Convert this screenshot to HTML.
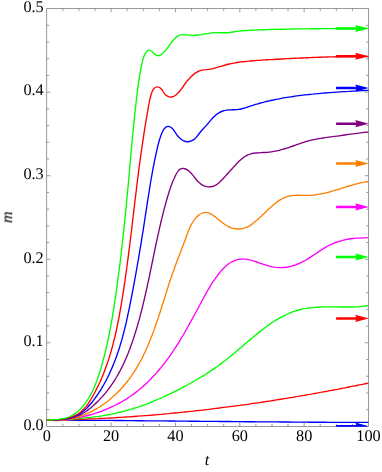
<!DOCTYPE html><html><head><meta charset="utf-8"><title>plot</title><style>html,body{margin:0;padding:0;background:#fff}svg{display:block}text{font-family:"Liberation Serif",serif;font-size:16.25px;fill:#000;text-rendering:geometricPrecision}</style></head><body>
<svg width="382" height="472" viewBox="0 0 382 472">
<rect width="382" height="472" fill="#fff"/>
<defs><clipPath id="c"><rect x="46.45" y="8.30" width="322.55" height="418.35"/></clipPath></defs>
<g stroke="#666" stroke-width="0.65" fill="none">
<rect x="46.75" y="8.60" width="321.75" height="417.75"/>
<path d="M62.84 426.35v-2.40M62.84 8.60v2.40M78.92 426.35v-2.40M78.92 8.60v2.40M95.01 426.35v-2.40M95.01 8.60v2.40M111.10 426.35v-3.70M111.10 8.60v3.70M127.19 426.35v-2.40M127.19 8.60v2.40M143.28 426.35v-2.40M143.28 8.60v2.40M159.36 426.35v-2.40M159.36 8.60v2.40M175.45 426.35v-3.70M175.45 8.60v3.70M191.54 426.35v-2.40M191.54 8.60v2.40M207.62 426.35v-2.40M207.62 8.60v2.40M223.71 426.35v-2.40M223.71 8.60v2.40M239.80 426.35v-3.70M239.80 8.60v3.70M255.89 426.35v-2.40M255.89 8.60v2.40M271.98 426.35v-2.40M271.98 8.60v2.40M288.06 426.35v-2.40M288.06 8.60v2.40M304.15 426.35v-3.70M304.15 8.60v3.70M320.24 426.35v-2.40M320.24 8.60v2.40M336.32 426.35v-2.40M336.32 8.60v2.40M352.41 426.35v-2.40M352.41 8.60v2.40M46.75 409.64h2.40M368.50 409.64h-2.40M46.75 392.93h2.40M368.50 392.93h-2.40M46.75 376.22h2.40M368.50 376.22h-2.40M46.75 359.51h2.40M368.50 359.51h-2.40M46.75 342.80h3.70M368.50 342.80h-3.70M46.75 326.09h2.40M368.50 326.09h-2.40M46.75 309.38h2.40M368.50 309.38h-2.40M46.75 292.67h2.40M368.50 292.67h-2.40M46.75 275.96h2.40M368.50 275.96h-2.40M46.75 259.25h3.70M368.50 259.25h-3.70M46.75 242.54h2.40M368.50 242.54h-2.40M46.75 225.83h2.40M368.50 225.83h-2.40M46.75 209.12h2.40M368.50 209.12h-2.40M46.75 192.41h2.40M368.50 192.41h-2.40M46.75 175.70h3.70M368.50 175.70h-3.70M46.75 158.99h2.40M368.50 158.99h-2.40M46.75 142.28h2.40M368.50 142.28h-2.40M46.75 125.57h2.40M368.50 125.57h-2.40M46.75 108.86h2.40M368.50 108.86h-2.40M46.75 92.15h3.70M368.50 92.15h-3.70M46.75 75.44h2.40M368.50 75.44h-2.40M46.75 58.73h2.40M368.50 58.73h-2.40M46.75 42.02h2.40M368.50 42.02h-2.40M46.75 25.31h2.40M368.50 25.31h-2.40"/>
</g>
<g clip-path="url(#c)" fill="none" stroke-width="1.35" stroke-linejoin="round">
<path d="M46.6 420.0C47.9 420.0 49.2 420.0 50.6 420.0C51.9 420.0 53.2 420.0 54.5 420.0C55.9 420.1 57.2 420.1 58.5 420.1C59.8 420.1 61.2 420.1 62.5 420.1C63.8 420.1 65.1 420.1 66.5 420.1C67.8 420.1 69.1 420.1 70.4 420.1C71.8 420.1 73.1 420.2 74.4 420.2C75.7 420.2 77.1 420.2 78.4 420.2C79.7 420.2 81.0 420.2 82.4 420.2C83.7 420.2 85.0 420.2 86.3 420.3C87.7 420.3 89.0 420.3 90.3 420.3C91.6 420.3 93.0 420.3 94.3 420.3C95.6 420.3 96.9 420.3 98.2 420.3C99.6 420.4 100.9 420.4 102.2 420.4C103.5 420.4 104.9 420.4 106.2 420.4C107.5 420.4 108.8 420.4 110.2 420.4C111.5 420.4 112.8 420.5 114.1 420.5C115.5 420.5 116.8 420.5 118.1 420.5C119.4 420.5 120.8 420.5 122.1 420.5C123.4 420.6 124.7 420.6 126.1 420.6C127.4 420.6 128.7 420.6 130.0 420.6C131.4 420.6 132.7 420.6 134.0 420.6C135.3 420.7 136.7 420.7 138.0 420.7C139.3 420.7 140.6 420.7 141.9 420.7C143.3 420.7 144.6 420.7 145.9 420.8C147.2 420.8 148.6 420.8 149.9 420.8C151.2 420.8 152.5 420.8 153.9 420.8C155.2 420.8 156.5 420.9 157.8 420.9C159.2 420.9 160.5 420.9 161.8 420.9C163.1 420.9 164.5 420.9 165.8 420.9C167.1 421.0 168.4 421.0 169.8 421.0C171.1 421.0 172.4 421.0 173.7 421.0C175.1 421.0 176.4 421.0 177.7 421.1C179.0 421.1 180.4 421.1 181.7 421.1C183.0 421.1 184.3 421.1 185.6 421.1C187.0 421.1 188.3 421.2 189.6 421.2C190.9 421.2 192.3 421.2 193.6 421.2C194.9 421.2 196.2 421.2 197.6 421.2C198.9 421.3 200.2 421.3 201.5 421.3C202.9 421.3 204.2 421.3 205.5 421.3C206.8 421.3 208.2 421.3 209.5 421.4C210.8 421.4 212.1 421.4 213.5 421.4C214.8 421.4 216.1 421.4 217.4 421.4C218.8 421.4 220.1 421.5 221.4 421.5C222.7 421.5 224.1 421.5 225.4 421.5C226.7 421.5 228.0 421.5 229.3 421.5C230.7 421.6 232.0 421.6 233.3 421.6C234.6 421.6 236.0 421.6 237.3 421.6C238.6 421.6 239.9 421.6 241.3 421.6C242.6 421.7 243.9 421.7 245.2 421.7C246.6 421.7 247.9 421.7 249.2 421.7C250.5 421.7 251.9 421.7 253.2 421.7C254.5 421.8 255.8 421.8 257.2 421.8C258.5 421.8 259.8 421.8 261.1 421.8C262.5 421.8 263.8 421.8 265.1 421.8C266.4 421.9 267.8 421.9 269.1 421.9C270.4 421.9 271.7 421.9 273.1 421.9C274.4 421.9 275.7 421.9 277.0 421.9C278.3 422.0 279.7 422.0 281.0 422.0C282.3 422.0 283.6 422.0 285.0 422.0C286.3 422.0 287.6 422.0 288.9 422.0C290.3 422.0 291.6 422.0 292.9 422.1C294.2 422.1 295.6 422.1 296.9 422.1C298.2 422.1 299.5 422.1 300.9 422.1C302.2 422.1 303.5 422.1 304.8 422.1C306.2 422.1 307.5 422.2 308.8 422.2C310.1 422.2 311.5 422.2 312.8 422.2C314.1 422.2 315.4 422.2 316.8 422.2C318.1 422.2 319.4 422.2 320.7 422.2C322.0 422.2 323.4 422.2 324.7 422.2C326.0 422.3 327.3 422.3 328.7 422.3C330.0 422.3 331.3 422.3 332.6 422.3C334.0 422.3 335.3 422.3 336.6 422.3C337.9 422.3 339.3 422.3 340.6 422.3C341.9 422.3 343.2 422.3 344.6 422.3C345.9 422.3 347.2 422.3 348.5 422.3C349.9 422.4 351.2 422.4 352.5 422.4C353.8 422.4 355.2 422.4 356.5 422.4C357.8 422.4 359.1 422.4 360.5 422.4C361.8 422.4 363.1 422.4 364.4 422.4C365.8 422.4 367.1 422.4 368.4 422.4" stroke="#0000ff"/>
<path d="M46.6 420.0C47.9 420.0 49.2 420.0 50.6 420.0C51.9 419.9 53.2 419.9 54.5 419.9C55.8 419.9 57.2 419.9 58.5 419.8C59.8 419.8 61.1 419.8 62.4 419.8C63.8 419.7 65.1 419.7 66.4 419.7C67.7 419.6 69.0 419.6 70.3 419.6C71.7 419.5 73.0 419.5 74.3 419.5C75.6 419.4 76.9 419.4 78.3 419.4C79.6 419.3 80.9 419.3 82.2 419.2C83.5 419.2 84.8 419.1 86.2 419.1C87.5 419.0 88.8 419.0 90.1 418.9C91.4 418.9 92.8 418.8 94.1 418.8C95.4 418.7 96.7 418.6 98.0 418.6C99.3 418.5 100.7 418.5 102.0 418.4C103.3 418.3 104.6 418.3 105.9 418.2C107.2 418.1 108.6 418.1 109.9 418.0C111.2 417.9 112.5 417.8 113.8 417.8C115.1 417.7 116.5 417.6 117.8 417.5C119.1 417.4 120.4 417.4 121.7 417.3C123.0 417.2 124.4 417.1 125.7 417.0C127.0 416.9 128.3 416.9 129.6 416.8C130.9 416.7 132.2 416.6 133.6 416.5C134.9 416.4 136.2 416.3 137.5 416.2C138.8 416.1 140.1 416.0 141.5 415.9C142.8 415.8 144.1 415.7 145.4 415.6C146.7 415.5 148.0 415.4 149.3 415.3C150.7 415.2 152.0 415.1 153.3 415.0C154.6 414.9 155.9 414.8 157.2 414.6C158.5 414.5 159.8 414.4 161.2 414.3C162.5 414.2 163.8 414.1 165.1 413.9C166.4 413.8 167.7 413.7 169.0 413.6C170.4 413.4 171.7 413.3 173.0 413.2C174.3 413.1 175.6 412.9 176.9 412.8C178.2 412.7 179.5 412.5 180.8 412.4C182.2 412.3 183.5 412.1 184.8 412.0C186.1 411.9 187.4 411.7 188.7 411.6C190.0 411.5 191.3 411.3 192.7 411.2C194.0 411.0 195.3 410.9 196.6 410.7C197.9 410.6 199.2 410.4 200.5 410.3C201.8 410.1 203.1 410.0 204.4 409.8C205.8 409.7 207.1 409.5 208.4 409.4C209.7 409.2 211.0 409.1 212.3 408.9C213.6 408.8 214.9 408.6 216.2 408.4C217.5 408.3 218.8 408.1 220.2 407.9C221.5 407.8 222.8 407.6 224.1 407.4C225.4 407.3 226.7 407.1 228.0 406.9C229.3 406.8 230.6 406.6 231.9 406.4C233.2 406.2 234.5 406.1 235.8 405.9C237.2 405.7 238.5 405.5 239.8 405.4C241.1 405.2 242.4 405.0 243.7 404.8C245.0 404.6 246.3 404.4 247.6 404.3C248.9 404.1 250.2 403.9 251.5 403.7C252.8 403.5 254.1 403.3 255.4 403.1C256.7 402.9 258.0 402.7 259.3 402.6C260.7 402.4 262.0 402.2 263.3 402.0C264.6 401.8 265.9 401.6 267.2 401.4C268.5 401.2 269.8 401.0 271.1 400.8C272.4 400.6 273.7 400.4 275.0 400.2C276.3 399.9 277.6 399.7 278.9 399.5C280.2 399.3 281.5 399.1 282.8 398.9C284.1 398.7 285.4 398.5 286.7 398.3C288.0 398.1 289.3 397.8 290.6 397.6C291.9 397.4 293.2 397.2 294.5 397.0C295.8 396.7 297.1 396.5 298.4 396.3C299.7 396.1 301.0 395.9 302.3 395.6C303.6 395.4 304.9 395.2 306.2 395.0C307.5 394.7 308.8 394.5 310.1 394.3C311.4 394.0 312.7 393.8 314.0 393.6C315.3 393.4 316.6 393.1 317.9 392.9C319.2 392.6 320.5 392.4 321.8 392.2C323.1 391.9 324.4 391.7 325.7 391.5C327.0 391.2 328.3 391.0 329.6 390.7C330.9 390.5 332.2 390.2 333.5 390.0C334.8 389.8 336.1 389.5 337.4 389.3C338.7 389.0 339.9 388.8 341.2 388.5C342.5 388.3 343.8 388.0 345.1 387.8C346.4 387.5 347.7 387.3 349.0 387.0C350.3 386.8 351.6 386.5 352.9 386.2C354.2 386.0 355.5 385.7 356.8 385.5C358.1 385.2 359.4 384.9 360.6 384.7C361.9 384.4 363.2 384.2 364.5 383.9C365.8 383.6 367.1 383.4 368.4 383.1" stroke="#ff0000"/>
<path d="M46.6 420.0C47.9 420.0 49.2 420.0 50.6 419.9C51.9 419.9 53.2 419.9 54.5 419.8C55.9 419.8 57.2 419.7 58.5 419.7C59.9 419.6 61.2 419.6 62.5 419.5C63.9 419.5 65.2 419.4 66.5 419.3C67.9 419.3 69.2 419.2 70.5 419.1C71.9 419.0 73.2 419.0 74.5 418.9C75.9 418.8 77.2 418.7 78.5 418.6C79.9 418.5 81.2 418.3 82.5 418.2C83.9 418.1 85.2 418.0 86.5 417.8C87.8 417.7 89.2 417.5 90.5 417.4C91.8 417.2 93.2 417.1 94.5 416.9C95.8 416.7 97.1 416.5 98.5 416.4C99.8 416.2 101.1 416.0 102.4 415.8C103.7 415.5 105.1 415.3 106.4 415.1C107.7 414.9 109.0 414.6 110.3 414.4C111.6 414.1 112.9 413.8 114.2 413.6C115.5 413.3 116.8 413.0 118.1 412.7C119.4 412.4 120.7 412.1 122.0 411.8C123.3 411.5 124.6 411.1 125.8 410.8C127.1 410.4 128.4 410.1 129.7 409.7C131.0 409.3 132.2 408.9 133.5 408.5C134.8 408.1 136.0 407.7 137.3 407.3C138.5 406.9 139.8 406.5 141.0 406.0C142.3 405.6 143.5 405.1 144.8 404.7C146.0 404.2 147.3 403.7 148.5 403.3C149.7 402.8 151.0 402.3 152.2 401.8C153.4 401.3 154.7 400.8 155.9 400.2C157.1 399.7 158.3 399.2 159.6 398.7C160.8 398.1 162.0 397.6 163.2 397.0C164.4 396.5 165.6 395.9 166.8 395.4C168.0 394.8 169.2 394.2 170.4 393.6C171.7 393.1 172.9 392.5 174.0 391.9C175.2 391.3 176.4 390.7 177.6 390.1C178.8 389.5 180.0 388.9 181.2 388.3C182.4 387.6 183.6 387.0 184.8 386.4C185.9 385.8 187.1 385.1 188.3 384.5C189.5 383.8 190.6 383.2 191.8 382.5C193.0 381.9 194.1 381.2 195.3 380.5C196.4 379.9 197.6 379.2 198.7 378.5C199.9 377.8 201.0 377.1 202.2 376.4C203.3 375.7 204.5 375.0 205.6 374.3C206.7 373.6 207.8 372.9 208.9 372.1C210.1 371.4 211.2 370.7 212.3 369.9C213.4 369.2 214.5 368.4 215.6 367.6C216.7 366.9 217.7 366.1 218.8 365.3C219.9 364.5 221.0 363.7 222.0 362.9C223.1 362.1 224.2 361.3 225.2 360.5C226.3 359.7 227.3 358.9 228.3 358.0C229.4 357.2 230.4 356.4 231.4 355.5C232.5 354.7 233.5 353.8 234.5 353.0C235.5 352.1 236.6 351.3 237.6 350.4C238.6 349.6 239.6 348.7 240.6 347.8C241.6 347.0 242.6 346.1 243.6 345.2C244.7 344.4 245.7 343.5 246.7 342.6C247.7 341.8 248.7 340.9 249.7 340.1C250.8 339.2 251.8 338.3 252.8 337.5C253.8 336.6 254.8 335.8 255.9 334.9C256.9 334.1 257.9 333.2 259.0 332.4C260.0 331.6 261.1 330.7 262.1 329.9C263.2 329.1 264.2 328.3 265.3 327.5C266.4 326.7 267.4 325.9 268.5 325.1C269.6 324.4 270.7 323.6 271.8 322.8C272.9 322.1 274.0 321.4 275.2 320.7C276.3 319.9 277.5 319.3 278.6 318.6C279.8 317.9 281.0 317.3 282.1 316.6C283.3 316.0 284.5 315.4 285.8 314.8C287.0 314.3 288.2 313.7 289.4 313.2C290.7 312.7 291.9 312.2 293.2 311.7C294.4 311.3 295.7 310.9 296.9 310.5C298.2 310.1 299.5 309.8 300.8 309.5C302.1 309.2 303.4 308.9 304.7 308.7C305.9 308.4 307.3 308.2 308.6 308.0C309.9 307.9 311.2 307.7 312.5 307.6C313.8 307.4 315.1 307.3 316.5 307.2C317.8 307.2 319.1 307.1 320.4 307.0C321.8 307.0 323.1 306.9 324.4 306.9C325.8 306.9 327.1 306.9 328.5 306.9C329.8 306.9 331.1 306.9 332.5 306.9C333.8 306.9 335.2 306.9 336.5 306.9C337.9 307.0 339.2 307.0 340.6 307.0C341.9 307.0 343.2 307.0 344.6 307.0C345.9 307.0 347.3 307.0 348.6 307.0C349.9 307.0 351.3 307.0 352.6 307.0C353.9 306.9 355.3 306.9 356.6 306.8C357.9 306.8 359.3 306.7 360.6 306.6C361.9 306.5 363.2 306.4 364.5 306.2C365.8 306.1 367.1 305.9 368.4 305.7" stroke="#00ff00"/>
<path d="M46.6 420.0C47.9 420.1 49.2 420.1 50.5 420.1C51.8 420.1 53.1 420.1 54.4 420.1C55.7 420.1 57.0 420.1 58.3 420.0C59.6 419.9 60.9 419.9 62.2 419.8C63.5 419.7 64.8 419.6 66.1 419.4C67.5 419.3 68.8 419.1 70.1 419.0C71.4 418.8 72.7 418.6 74.0 418.4C75.3 418.2 76.6 418.0 77.9 417.7C79.2 417.5 80.5 417.2 81.9 416.9C83.2 416.7 84.5 416.4 85.7 416.0C87.0 415.7 88.3 415.4 89.6 415.0C90.9 414.7 92.2 414.3 93.5 413.9C94.7 413.5 96.0 413.1 97.3 412.7C98.6 412.3 99.8 411.8 101.1 411.4C102.3 410.9 103.6 410.4 104.8 409.9C106.0 409.4 107.3 408.9 108.5 408.4C109.7 407.9 110.9 407.3 112.1 406.7C113.3 406.2 114.5 405.6 115.7 405.0C116.9 404.4 118.1 403.8 119.2 403.2C120.4 402.5 121.6 401.9 122.7 401.2C123.8 400.5 125.0 399.9 126.1 399.2C127.2 398.5 128.3 397.7 129.4 397.0C130.5 396.3 131.6 395.5 132.6 394.8C133.7 394.0 134.7 393.2 135.8 392.4C136.8 391.6 137.8 390.8 138.9 390.0C139.9 389.2 140.9 388.3 141.8 387.5C142.8 386.6 143.8 385.7 144.8 384.9C145.7 384.0 146.7 383.1 147.6 382.2C148.6 381.3 149.5 380.4 150.4 379.4C151.3 378.5 152.2 377.5 153.1 376.6C154.0 375.6 154.9 374.7 155.8 373.7C156.6 372.7 157.5 371.7 158.3 370.7C159.2 369.7 160.0 368.7 160.9 367.7C161.7 366.7 162.5 365.7 163.3 364.6C164.1 363.6 164.9 362.5 165.7 361.5C166.5 360.4 167.3 359.4 168.1 358.3C168.9 357.3 169.6 356.2 170.4 355.1C171.1 354.0 171.9 352.9 172.6 351.8C173.4 350.7 174.1 349.6 174.8 348.5C175.5 347.4 176.3 346.3 177.0 345.2C177.7 344.1 178.4 343.0 179.1 341.8C179.8 340.7 180.5 339.6 181.1 338.4C181.8 337.3 182.5 336.2 183.2 335.0C183.8 333.9 184.5 332.7 185.2 331.6C185.8 330.5 186.5 329.3 187.1 328.2C187.8 327.0 188.4 325.8 189.1 324.7C189.7 323.5 190.4 322.4 191.0 321.2C191.6 320.1 192.3 318.9 192.9 317.7C193.5 316.6 194.2 315.4 194.8 314.2C195.4 313.1 196.1 311.9 196.7 310.8C197.3 309.6 197.9 308.4 198.6 307.3C199.2 306.1 199.8 304.9 200.4 303.8C201.1 302.6 201.7 301.5 202.3 300.3C203.0 299.1 203.6 298.0 204.2 296.8C204.8 295.7 205.5 294.5 206.1 293.4C206.7 292.2 207.4 291.1 208.0 290.0C208.7 288.8 209.4 287.7 210.0 286.6C210.7 285.4 211.4 284.3 212.1 283.2C212.8 282.1 213.5 281.0 214.3 279.9C215.0 278.8 215.8 277.7 216.6 276.6C217.4 275.6 218.2 274.5 219.0 273.5C219.9 272.4 220.7 271.4 221.6 270.3C222.5 269.3 223.4 268.4 224.4 267.4C225.4 266.5 226.4 265.6 227.4 264.8C228.4 264.0 229.5 263.2 230.6 262.5C231.7 261.9 232.9 261.3 234.1 260.8C235.3 260.3 236.5 260.0 237.8 259.7C239.0 259.4 240.3 259.3 241.6 259.2C242.9 259.1 244.3 259.1 245.6 259.2C246.9 259.3 248.2 259.5 249.5 259.8C250.8 260.0 252.1 260.4 253.3 260.8C254.6 261.2 255.9 261.6 257.1 262.0C258.4 262.5 259.6 263.0 260.9 263.4C262.2 263.9 263.4 264.3 264.7 264.7C266.0 265.1 267.3 265.5 268.5 265.9C269.8 266.2 271.1 266.5 272.4 266.8C273.7 267.0 275.0 267.2 276.3 267.4C277.6 267.5 278.9 267.6 280.2 267.6C281.5 267.6 282.8 267.6 284.1 267.5C285.4 267.4 286.7 267.2 288.0 267.0C289.2 266.7 290.5 266.4 291.8 266.1C293.1 265.7 294.3 265.3 295.6 264.9C296.9 264.4 298.1 263.9 299.3 263.4C300.5 262.9 301.7 262.3 302.9 261.7C304.1 261.1 305.3 260.4 306.4 259.7C307.6 259.1 308.7 258.4 309.8 257.6C310.9 256.9 312.0 256.2 313.1 255.4C314.2 254.7 315.3 254.0 316.4 253.2C317.5 252.5 318.6 251.7 319.7 251.0C320.8 250.3 321.9 249.5 323.0 248.8C324.1 248.2 325.2 247.5 326.4 246.8C327.5 246.2 328.7 245.6 329.9 245.0C331.1 244.4 332.3 243.9 333.5 243.4C334.7 242.9 335.9 242.4 337.2 242.0C338.4 241.5 339.7 241.1 340.9 240.8C342.2 240.4 343.5 240.1 344.8 239.8C346.1 239.5 347.4 239.3 348.7 239.0C350.0 238.8 351.3 238.7 352.6 238.5C353.9 238.4 355.3 238.3 356.6 238.2C357.9 238.1 359.2 238.0 360.6 238.0C361.9 237.9 363.2 237.9 364.5 237.8C365.8 237.8 367.1 237.8 368.5 237.7" stroke="#ff00ff"/>
<path d="M46.6 420.0C48.0 420.2 49.3 420.3 50.7 420.4C52.1 420.5 53.4 420.5 54.8 420.5C56.1 420.5 57.5 420.5 58.8 420.5C60.2 420.4 61.5 420.3 62.8 420.2C64.2 420.0 65.5 419.9 66.8 419.7C68.1 419.4 69.4 419.2 70.7 418.9C72.0 418.7 73.3 418.4 74.5 418.0C75.8 417.7 77.1 417.3 78.3 416.9C79.6 416.5 80.9 416.1 82.1 415.6C83.3 415.2 84.6 414.7 85.8 414.2C87.0 413.7 88.2 413.1 89.4 412.6C90.6 412.0 91.8 411.4 92.9 410.8C94.1 410.2 95.2 409.5 96.4 408.8C97.5 408.2 98.7 407.5 99.8 406.8C100.9 406.0 102.0 405.3 103.1 404.5C104.2 403.8 105.3 403.0 106.3 402.2C107.4 401.4 108.4 400.6 109.5 399.7C110.5 398.9 111.5 398.0 112.5 397.1C113.5 396.2 114.5 395.3 115.5 394.4C116.5 393.5 117.4 392.6 118.4 391.6C119.3 390.7 120.2 389.7 121.1 388.7C122.0 387.7 122.9 386.8 123.8 385.7C124.6 384.7 125.5 383.7 126.3 382.7C127.2 381.7 128.0 380.6 128.8 379.6C129.6 378.5 130.3 377.4 131.1 376.4C131.9 375.3 132.6 374.2 133.3 373.1C134.1 372.0 134.8 370.9 135.5 369.8C136.2 368.7 136.8 367.5 137.5 366.4C138.2 365.2 138.8 364.1 139.5 362.9C140.1 361.8 140.7 360.6 141.4 359.5C142.0 358.3 142.6 357.1 143.2 355.9C143.7 354.7 144.3 353.5 144.9 352.3C145.5 351.1 146.0 349.9 146.6 348.7C147.1 347.5 147.6 346.3 148.2 345.0C148.7 343.8 149.2 342.6 149.7 341.3C150.2 340.1 150.7 338.9 151.2 337.6C151.7 336.4 152.2 335.1 152.6 333.8C153.1 332.6 153.6 331.3 154.0 330.1C154.5 328.8 154.9 327.5 155.4 326.2C155.8 325.0 156.3 323.7 156.7 322.4C157.1 321.1 157.6 319.9 158.0 318.6C158.4 317.3 158.8 316.0 159.3 314.7C159.7 313.5 160.1 312.2 160.5 310.9C160.9 309.6 161.3 308.3 161.7 307.0C162.1 305.7 162.5 304.4 162.9 303.2C163.4 301.9 163.8 300.6 164.2 299.3C164.6 298.0 165.0 296.7 165.4 295.4C165.8 294.2 166.2 292.9 166.6 291.6C167.0 290.3 167.4 289.0 167.8 287.8C168.2 286.5 168.6 285.2 169.0 283.9C169.4 282.7 169.8 281.4 170.3 280.1C170.7 278.9 171.1 277.6 171.5 276.4C172.0 275.1 172.4 273.9 172.8 272.6C173.3 271.4 173.7 270.1 174.2 268.9C174.6 267.7 175.1 266.4 175.5 265.2C176.0 264.0 176.4 262.8 176.9 261.5C177.4 260.3 177.8 259.1 178.3 257.9C178.8 256.7 179.2 255.4 179.7 254.2C180.2 253.0 180.7 251.8 181.1 250.5C181.6 249.3 182.1 248.1 182.5 246.9C183.0 245.6 183.5 244.4 184.0 243.1C184.4 241.9 184.9 240.6 185.3 239.4C185.8 238.1 186.3 236.8 186.7 235.5C187.2 234.3 187.6 233.0 188.1 231.7C188.6 230.5 189.1 229.2 189.7 228.0C190.2 226.8 190.8 225.6 191.4 224.4C192.1 223.2 192.8 222.1 193.5 221.0C194.2 219.9 195.1 218.9 195.9 217.9C196.8 216.9 197.8 215.9 198.8 215.1C199.9 214.2 201.0 213.5 202.2 213.0C203.4 212.5 204.6 212.3 205.9 212.4C207.2 212.4 208.5 212.9 209.7 213.4C211.0 214.0 212.2 214.7 213.3 215.4C214.4 216.2 215.5 217.0 216.6 217.9C217.6 218.7 218.7 219.6 219.7 220.5C220.8 221.3 221.8 222.2 222.9 223.0C223.9 223.8 225.0 224.6 226.1 225.3C227.2 226.0 228.4 226.6 229.6 227.1C230.8 227.7 232.0 228.1 233.3 228.4C234.6 228.7 235.9 228.9 237.3 229.0C238.6 229.0 240.0 229.0 241.3 228.8C242.6 228.6 243.9 228.3 245.2 227.9C246.4 227.5 247.6 226.9 248.8 226.3C249.9 225.6 251.1 224.9 252.1 224.1C253.2 223.3 254.3 222.5 255.3 221.6C256.4 220.7 257.4 219.8 258.4 218.9C259.4 218.0 260.3 217.1 261.3 216.2C262.2 215.3 263.2 214.4 264.1 213.5C265.1 212.6 266.0 211.7 267.0 210.8C267.9 209.9 268.9 209.0 269.9 208.1C270.8 207.1 271.9 206.2 272.9 205.3C273.9 204.5 275.0 203.6 276.0 202.7C277.1 201.9 278.2 201.1 279.3 200.4C280.5 199.6 281.6 198.9 282.8 198.3C284.0 197.7 285.2 197.2 286.4 196.8C287.6 196.4 288.9 196.1 290.2 195.8C291.5 195.6 292.8 195.5 294.1 195.4C295.4 195.3 296.8 195.2 298.1 195.2C299.5 195.2 300.8 195.2 302.2 195.3C303.5 195.3 304.9 195.3 306.2 195.3C307.6 195.4 309.0 195.3 310.3 195.3C311.6 195.2 313.0 195.1 314.3 195.0C315.6 194.8 316.9 194.7 318.2 194.4C319.5 194.2 320.8 194.0 322.1 193.7C323.4 193.5 324.7 193.2 326.0 192.8C327.3 192.5 328.6 192.2 329.9 191.8C331.1 191.5 332.4 191.1 333.7 190.7C334.9 190.3 336.2 190.0 337.5 189.6C338.8 189.2 340.0 188.8 341.3 188.3C342.6 187.9 343.8 187.5 345.1 187.1C346.4 186.7 347.6 186.3 348.9 186.0C350.2 185.6 351.5 185.2 352.7 184.8C354.0 184.5 355.3 184.1 356.6 183.8C357.9 183.5 359.2 183.2 360.5 182.9C361.8 182.6 363.1 182.4 364.4 182.2C365.7 181.9 367.1 181.8 368.4 181.6" stroke="#ff8000"/>
<path d="M46.6 420.0C47.9 420.0 49.3 420.0 50.6 420.0C52.0 420.0 53.3 420.0 54.6 420.0C56.0 420.0 57.3 419.9 58.6 419.9C60.0 419.8 61.3 419.7 62.6 419.6C63.9 419.4 65.2 419.3 66.5 419.1C67.8 418.9 69.1 418.6 70.3 418.3C71.6 418.1 72.8 417.7 74.1 417.3C75.3 416.9 76.5 416.5 77.7 416.0C78.9 415.5 80.1 414.9 81.3 414.3C82.5 413.7 83.6 413.0 84.7 412.3C85.9 411.5 87.0 410.8 88.0 409.9C89.1 409.1 90.2 408.3 91.2 407.4C92.3 406.5 93.3 405.6 94.3 404.7C95.3 403.8 96.3 402.9 97.2 402.0C98.2 401.0 99.1 400.1 100.0 399.1C101.0 398.1 101.9 397.2 102.7 396.2C103.6 395.2 104.5 394.2 105.3 393.2C106.1 392.1 107.0 391.1 107.8 390.1C108.6 389.0 109.4 388.0 110.1 386.9C110.9 385.8 111.6 384.8 112.4 383.7C113.1 382.6 113.8 381.5 114.5 380.4C115.2 379.3 115.9 378.2 116.6 377.0C117.2 375.9 117.9 374.8 118.5 373.6C119.2 372.5 119.8 371.3 120.4 370.2C121.0 369.0 121.6 367.8 122.2 366.6C122.8 365.5 123.3 364.3 123.9 363.1C124.4 361.9 125.0 360.7 125.5 359.5C126.0 358.3 126.6 357.1 127.1 355.8C127.6 354.6 128.1 353.4 128.6 352.2C129.0 350.9 129.5 349.7 130.0 348.5C130.4 347.2 130.9 346.0 131.3 344.7C131.8 343.5 132.2 342.2 132.7 341.0C133.1 339.7 133.5 338.5 133.9 337.2C134.3 335.9 134.7 334.7 135.1 333.4C135.5 332.1 135.9 330.9 136.3 329.6C136.7 328.3 137.1 327.0 137.4 325.8C137.8 324.5 138.2 323.2 138.5 321.9C138.9 320.7 139.2 319.4 139.6 318.1C139.9 316.8 140.3 315.5 140.6 314.2C140.9 313.0 141.3 311.7 141.6 310.4C141.9 309.1 142.3 307.8 142.6 306.5C142.9 305.2 143.2 303.9 143.5 302.7C143.8 301.4 144.1 300.1 144.4 298.8C144.7 297.5 145.0 296.2 145.3 294.9C145.6 293.6 145.9 292.3 146.2 291.0C146.5 289.7 146.8 288.4 147.1 287.1C147.3 285.8 147.6 284.5 147.9 283.2C148.2 281.9 148.5 280.6 148.7 279.3C149.0 278.0 149.3 276.7 149.6 275.4C149.8 274.1 150.1 272.8 150.4 271.5C150.6 270.2 150.9 268.9 151.2 267.6C151.4 266.3 151.7 265.0 152.0 263.7C152.3 262.4 152.5 261.1 152.8 259.8C153.1 258.5 153.3 257.2 153.6 255.9C153.9 254.6 154.1 253.3 154.4 252.0C154.7 250.7 154.9 249.4 155.2 248.1C155.5 246.8 155.8 245.5 156.0 244.2C156.3 242.9 156.6 241.6 156.9 240.3C157.1 239.0 157.4 237.7 157.7 236.4C158.0 235.1 158.3 233.9 158.6 232.6C158.8 231.3 159.1 230.0 159.4 228.7C159.7 227.4 160.0 226.1 160.3 224.8C160.6 223.5 160.9 222.2 161.2 221.0C161.5 219.7 161.8 218.4 162.2 217.1C162.5 215.8 162.8 214.5 163.1 213.3C163.4 212.0 163.8 210.7 164.1 209.4C164.4 208.1 164.8 206.9 165.1 205.6C165.5 204.3 165.8 203.0 166.2 201.8C166.5 200.5 166.9 199.2 167.2 198.0C167.6 196.7 168.0 195.4 168.4 194.2C168.8 192.9 169.1 191.7 169.5 190.4C170.0 189.1 170.4 187.9 170.8 186.6C171.3 185.4 171.7 184.1 172.2 182.9C172.7 181.7 173.2 180.4 173.8 179.2C174.3 178.0 174.9 176.8 175.5 175.5C176.1 174.3 176.8 173.1 177.5 172.0C178.2 170.8 179.0 169.8 180.1 169.2C181.1 168.6 182.4 168.3 183.6 168.5C184.9 168.7 186.2 169.2 187.3 169.9C188.4 170.6 189.5 171.5 190.4 172.4C191.3 173.3 192.2 174.4 193.1 175.4C193.9 176.5 194.7 177.6 195.6 178.7C196.4 179.7 197.3 180.8 198.2 181.8C199.2 182.7 200.2 183.6 201.3 184.4C202.4 185.1 203.5 185.7 204.8 186.2C206.0 186.6 207.3 186.8 208.6 186.9C209.9 186.9 211.3 186.8 212.5 186.5C213.8 186.2 215.0 185.6 216.2 184.9C217.3 184.2 218.3 183.3 219.3 182.4C220.3 181.5 221.3 180.5 222.2 179.6C223.2 178.6 224.1 177.6 225.0 176.7C225.8 175.7 226.7 174.7 227.6 173.8C228.5 172.8 229.3 171.8 230.2 170.8C231.1 169.9 231.9 168.9 232.8 167.9C233.7 166.9 234.6 165.9 235.5 165.0C236.4 164.0 237.3 163.0 238.3 162.0C239.3 161.1 240.3 160.1 241.3 159.3C242.3 158.4 243.4 157.6 244.5 156.8C245.6 156.1 246.7 155.5 247.9 154.9C249.0 154.4 250.3 154.0 251.5 153.6C252.8 153.3 254.1 153.1 255.4 153.0C256.7 152.8 258.0 152.7 259.4 152.7C260.7 152.6 262.1 152.6 263.4 152.5C264.8 152.5 266.1 152.4 267.5 152.3C268.8 152.2 270.1 152.0 271.4 151.8C272.7 151.6 274.0 151.4 275.3 151.1C276.6 150.9 277.9 150.6 279.2 150.3C280.4 150.0 281.7 149.6 283.0 149.2C284.2 148.9 285.5 148.5 286.7 148.1C288.0 147.7 289.2 147.3 290.5 146.8C291.8 146.4 293.0 146.0 294.3 145.5C295.5 145.1 296.8 144.6 298.0 144.2C299.3 143.8 300.5 143.3 301.8 142.9C303.1 142.5 304.3 142.1 305.6 141.7C306.9 141.3 308.2 141.0 309.4 140.6C310.7 140.3 312.0 140.0 313.3 139.7C314.6 139.4 315.9 139.2 317.2 138.9C318.5 138.7 319.8 138.5 321.1 138.3C322.4 138.1 323.7 137.9 325.0 137.7C326.4 137.5 327.7 137.3 329.0 137.1C330.3 137.0 331.6 136.8 332.9 136.6C334.2 136.5 335.6 136.3 336.9 136.1C338.2 135.9 339.5 135.8 340.8 135.6C342.1 135.4 343.4 135.2 344.7 135.0C346.1 134.8 347.4 134.6 348.7 134.4C350.0 134.2 351.3 134.0 352.6 133.8C353.9 133.6 355.2 133.5 356.5 133.3C357.8 133.1 359.2 133.0 360.5 132.8C361.8 132.6 363.1 132.5 364.4 132.4C365.7 132.3 367.1 132.1 368.4 132.1" stroke="#800080"/>
<path d="M46.6 420.0C47.9 420.0 49.2 420.1 50.5 420.1C51.8 420.1 53.2 420.1 54.5 420.0C55.9 420.0 57.2 419.9 58.5 419.8C59.9 419.7 61.2 419.6 62.6 419.4C63.9 419.2 65.2 419.0 66.6 418.7C67.9 418.4 69.2 418.1 70.4 417.8C71.7 417.4 73.0 417.0 74.2 416.5C75.4 416.0 76.6 415.5 77.8 414.9C78.9 414.3 80.0 413.6 81.1 412.9C82.2 412.1 83.2 411.3 84.2 410.5C85.3 409.6 86.2 408.7 87.2 407.8C88.1 406.8 89.0 405.8 89.9 404.8C90.8 403.8 91.6 402.7 92.5 401.7C93.3 400.6 94.1 399.5 94.9 398.4C95.7 397.3 96.5 396.2 97.2 395.1C98.0 394.0 98.7 392.9 99.4 391.8C100.2 390.7 100.9 389.5 101.6 388.4C102.3 387.3 102.9 386.1 103.6 385.0C104.2 383.8 104.9 382.6 105.5 381.5C106.1 380.3 106.7 379.1 107.3 378.0C107.9 376.8 108.5 375.6 109.1 374.4C109.7 373.2 110.2 372.0 110.7 370.8C111.3 369.6 111.8 368.4 112.3 367.2C112.8 366.0 113.3 364.7 113.8 363.5C114.3 362.3 114.8 361.1 115.3 359.8C115.7 358.6 116.2 357.3 116.6 356.1C117.1 354.8 117.5 353.6 117.9 352.3C118.4 351.1 118.8 349.8 119.2 348.6C119.6 347.3 120.0 346.0 120.3 344.8C120.7 343.5 121.1 342.2 121.5 340.9C121.8 339.7 122.2 338.4 122.5 337.1C122.9 335.8 123.2 334.5 123.6 333.2C123.9 331.9 124.2 330.6 124.6 329.4C124.9 328.1 125.2 326.8 125.5 325.5C125.8 324.2 126.1 322.9 126.4 321.6C126.7 320.3 127.0 319.0 127.3 317.7C127.6 316.3 127.9 315.0 128.1 313.7C128.4 312.4 128.7 311.1 129.0 309.8C129.2 308.5 129.5 307.2 129.8 305.9C130.0 304.6 130.3 303.3 130.5 302.0C130.8 300.6 131.1 299.3 131.3 298.0C131.6 296.7 131.8 295.4 132.1 294.1C132.3 292.8 132.6 291.5 132.8 290.2C133.1 288.9 133.3 287.6 133.6 286.2C133.8 284.9 134.1 283.6 134.3 282.3C134.5 281.0 134.8 279.7 135.0 278.4C135.3 277.1 135.5 275.8 135.7 274.5C136.0 273.2 136.2 271.9 136.4 270.5C136.7 269.2 136.9 267.9 137.1 266.6C137.3 265.3 137.6 264.0 137.8 262.7C138.0 261.4 138.2 260.1 138.5 258.8C138.7 257.5 138.9 256.2 139.1 254.8C139.4 253.5 139.6 252.2 139.8 250.9C140.0 249.6 140.2 248.3 140.4 247.0C140.7 245.7 140.9 244.4 141.1 243.1C141.3 241.8 141.5 240.4 141.7 239.1C141.9 237.8 142.1 236.5 142.3 235.2C142.6 233.9 142.8 232.6 143.0 231.3C143.2 230.0 143.4 228.6 143.6 227.3C143.8 226.0 144.0 224.7 144.2 223.4C144.4 222.1 144.6 220.8 144.8 219.5C145.0 218.1 145.2 216.8 145.4 215.5C145.6 214.2 145.8 212.9 146.0 211.6C146.2 210.3 146.4 208.9 146.6 207.6C146.8 206.3 147.0 205.0 147.2 203.7C147.4 202.4 147.6 201.0 147.8 199.7C148.0 198.4 148.2 197.1 148.4 195.8C148.7 194.5 148.9 193.1 149.1 191.8C149.3 190.5 149.5 189.2 149.7 187.9C149.9 186.6 150.1 185.2 150.3 183.9C150.6 182.6 150.8 181.3 151.0 180.0C151.2 178.7 151.4 177.4 151.7 176.1C151.9 174.7 152.1 173.4 152.4 172.1C152.6 170.8 152.9 169.5 153.1 168.2C153.3 166.9 153.6 165.6 153.9 164.3C154.1 163.0 154.4 161.7 154.6 160.4C154.9 159.1 155.2 157.8 155.5 156.5C155.7 155.2 156.0 153.9 156.3 152.6C156.6 151.3 156.9 150.0 157.2 148.7C157.5 147.4 157.8 146.1 158.1 144.8C158.5 143.5 158.8 142.3 159.1 141.0C159.5 139.7 159.9 138.4 160.3 137.2C160.7 135.9 161.2 134.6 161.7 133.4C162.3 132.2 162.9 130.9 163.6 129.7C164.4 128.5 165.2 127.4 166.2 126.8C167.3 126.3 168.5 126.2 169.6 126.7C170.8 127.1 171.9 128.0 172.8 129.0C173.7 129.9 174.4 131.1 175.2 132.3C176.0 133.5 176.8 134.7 177.6 135.8C178.5 136.9 179.5 137.9 180.5 138.8C181.5 139.7 182.6 140.4 183.8 140.9C185.0 141.4 186.2 141.7 187.5 141.7C188.8 141.7 190.1 141.4 191.4 140.9C192.7 140.4 193.9 139.7 194.9 138.8C195.9 137.9 196.8 136.8 197.6 135.7C198.4 134.7 199.1 133.6 200.0 132.5C200.8 131.5 201.7 130.5 202.6 129.5C203.5 128.5 204.4 127.6 205.3 126.6C206.2 125.6 207.1 124.7 207.9 123.6C208.8 122.6 209.6 121.6 210.4 120.6C211.3 119.6 212.2 118.5 213.1 117.6C214.1 116.6 215.0 115.7 216.1 114.8C217.1 114.0 218.2 113.2 219.3 112.6C220.5 111.9 221.7 111.4 222.9 111.0C224.1 110.6 225.4 110.3 226.7 110.1C228.0 110.0 229.4 109.9 230.7 109.8C232.1 109.8 233.4 109.7 234.8 109.7C236.2 109.6 237.5 109.5 238.8 109.3C240.1 109.1 241.4 108.9 242.7 108.5C244.0 108.2 245.3 107.8 246.5 107.4C247.8 107.0 249.1 106.6 250.3 106.2C251.6 105.7 252.8 105.3 254.1 104.9C255.4 104.5 256.6 104.1 257.9 103.8C259.2 103.4 260.5 103.1 261.8 102.7C263.0 102.4 264.3 102.0 265.6 101.7C266.9 101.4 268.2 101.1 269.5 100.8C270.8 100.5 272.1 100.2 273.4 100.0C274.7 99.7 276.0 99.4 277.3 99.2C278.6 98.9 280.0 98.7 281.3 98.4C282.6 98.2 283.9 98.0 285.2 97.7C286.5 97.5 287.8 97.3 289.1 97.1C290.4 96.9 291.8 96.7 293.1 96.5C294.4 96.3 295.7 96.1 297.0 95.9C298.3 95.8 299.7 95.6 301.0 95.4C302.3 95.3 303.6 95.1 304.9 94.9C306.3 94.8 307.6 94.6 308.9 94.5C310.2 94.3 311.5 94.2 312.9 94.1C314.2 93.9 315.5 93.8 316.8 93.7C318.2 93.5 319.5 93.4 320.8 93.3C322.1 93.2 323.5 93.1 324.8 93.0C326.1 92.9 327.4 92.8 328.8 92.7C330.1 92.6 331.4 92.5 332.7 92.4C334.1 92.3 335.4 92.2 336.7 92.1C338.1 92.0 339.4 91.9 340.7 91.8C342.0 91.7 343.4 91.7 344.7 91.6C346.0 91.5 347.4 91.4 348.7 91.4C350.0 91.3 351.3 91.2 352.7 91.1C354.0 91.1 355.3 91.0 356.7 90.9C358.0 90.8 359.3 90.8 360.6 90.7C362.0 90.6 363.3 90.6 364.6 90.5C365.9 90.4 367.3 90.4 368.6 90.3" stroke="#0000ff"/>
<path d="M46.6 420.0C47.8 420.0 49.0 420.0 50.3 420.0C51.6 420.0 52.9 419.9 54.3 419.9C55.6 419.8 56.9 419.7 58.3 419.6C59.7 419.4 61.1 419.3 62.4 419.1C63.8 418.8 65.2 418.6 66.5 418.3C67.9 418.0 69.2 417.6 70.5 417.2C71.8 416.8 73.1 416.3 74.3 415.8C75.5 415.2 76.7 414.6 77.8 414.0C78.9 413.3 80.0 412.5 81.0 411.7C82.0 410.9 82.9 410.0 83.8 409.1C84.7 408.1 85.6 407.1 86.4 406.1C87.2 405.0 88.0 404.0 88.7 402.9C89.4 401.8 90.2 400.6 90.8 399.5C91.5 398.3 92.2 397.2 92.9 396.0C93.5 394.8 94.2 393.7 94.8 392.5C95.4 391.3 96.0 390.1 96.6 388.9C97.2 387.7 97.8 386.5 98.4 385.3C99.0 384.1 99.5 382.9 100.1 381.7C100.6 380.5 101.1 379.3 101.7 378.1C102.2 376.9 102.7 375.6 103.2 374.4C103.7 373.2 104.2 371.9 104.6 370.7C105.1 369.5 105.6 368.2 106.0 367.0C106.5 365.7 106.9 364.5 107.3 363.2C107.8 361.9 108.2 360.7 108.6 359.4C109.0 358.2 109.4 356.9 109.8 355.6C110.2 354.4 110.6 353.1 110.9 351.8C111.3 350.5 111.7 349.3 112.0 348.0C112.4 346.7 112.7 345.4 113.1 344.1C113.4 342.8 113.7 341.5 114.0 340.2C114.4 338.9 114.7 337.7 115.0 336.4C115.3 335.1 115.6 333.8 115.9 332.5C116.2 331.2 116.5 329.9 116.7 328.5C117.0 327.2 117.3 325.9 117.5 324.6C117.8 323.3 118.1 322.0 118.3 320.7C118.6 319.4 118.8 318.1 119.1 316.8C119.3 315.5 119.6 314.1 119.8 312.8C120.0 311.5 120.3 310.2 120.5 308.9C120.7 307.6 121.0 306.3 121.2 304.9C121.4 303.6 121.6 302.3 121.8 301.0C122.1 299.7 122.3 298.4 122.5 297.0C122.7 295.7 122.9 294.4 123.1 293.1C123.3 291.8 123.5 290.5 123.7 289.2C123.9 287.8 124.1 286.5 124.3 285.2C124.5 283.9 124.7 282.6 124.9 281.3C125.1 279.9 125.3 278.6 125.5 277.3C125.6 276.0 125.8 274.7 126.0 273.4C126.2 272.1 126.4 270.7 126.6 269.4C126.7 268.1 126.9 266.8 127.1 265.5C127.3 264.2 127.4 262.9 127.6 261.5C127.8 260.2 128.0 258.9 128.1 257.6C128.3 256.3 128.5 255.0 128.6 253.6C128.8 252.3 129.0 251.0 129.1 249.7C129.3 248.4 129.5 247.1 129.6 245.8C129.8 244.4 130.0 243.1 130.1 241.8C130.3 240.5 130.4 239.2 130.6 237.9C130.8 236.6 130.9 235.2 131.1 233.9C131.2 232.6 131.4 231.3 131.6 230.0C131.7 228.7 131.9 227.3 132.0 226.0C132.2 224.7 132.3 223.4 132.5 222.1C132.6 220.8 132.8 219.4 133.0 218.1C133.1 216.8 133.3 215.5 133.4 214.2C133.6 212.9 133.7 211.5 133.9 210.2C134.0 208.9 134.2 207.6 134.4 206.3C134.5 205.0 134.7 203.6 134.8 202.3C135.0 201.0 135.1 199.7 135.3 198.4C135.5 197.0 135.6 195.7 135.8 194.4C135.9 193.1 136.1 191.8 136.3 190.4C136.4 189.1 136.6 187.8 136.7 186.5C136.9 185.2 137.1 183.8 137.2 182.5C137.4 181.2 137.6 179.9 137.7 178.6C137.9 177.2 138.1 175.9 138.2 174.6C138.4 173.3 138.6 171.9 138.7 170.6C138.9 169.3 139.1 168.0 139.2 166.7C139.4 165.3 139.6 164.0 139.8 162.7C140.0 161.4 140.1 160.0 140.3 158.7C140.5 157.4 140.7 156.1 140.9 154.7C141.0 153.4 141.2 152.1 141.4 150.8C141.6 149.4 141.8 148.1 142.0 146.8C142.2 145.5 142.4 144.1 142.6 142.8C142.8 141.5 143.0 140.1 143.2 138.8C143.4 137.5 143.6 136.2 143.8 134.8C144.0 133.5 144.2 132.2 144.4 130.8C144.6 129.5 144.8 128.2 145.0 126.9C145.3 125.5 145.5 124.2 145.7 122.9C145.9 121.6 146.1 120.3 146.3 119.0C146.6 117.7 146.8 116.4 147.0 115.1C147.2 113.8 147.4 112.5 147.7 111.2C147.9 110.0 148.1 108.7 148.3 107.4C148.5 106.2 148.7 104.9 149.0 103.7C149.2 102.5 149.5 101.2 149.7 99.9C150.0 98.6 150.4 97.3 150.7 96.0C151.1 94.6 151.6 93.1 152.1 91.8C152.7 90.4 153.3 89.2 154.2 88.3C155.0 87.3 156.0 86.8 157.3 86.8C158.5 86.8 159.8 87.3 160.7 88.2C161.7 89.1 162.4 90.3 163.1 91.5C163.9 92.8 164.7 94.0 165.7 95.0C166.7 95.9 168.0 96.6 169.3 96.9C170.6 97.2 171.9 97.1 173.1 96.6C174.3 96.1 175.5 95.3 176.5 94.4C177.6 93.5 178.5 92.5 179.4 91.5C180.3 90.5 181.1 89.5 181.8 88.4C182.6 87.3 183.4 86.2 184.1 85.1C184.9 84.0 185.6 83.0 186.4 81.9C187.2 80.9 188.1 79.8 189.0 78.9C189.9 77.9 190.8 76.9 191.8 76.0C192.8 75.1 193.8 74.2 194.9 73.4C196.0 72.7 197.2 72.0 198.3 71.4C199.5 70.8 200.8 70.4 202.1 70.2C203.4 69.9 204.7 69.8 206.1 69.7C207.4 69.5 208.7 69.4 210.0 69.2C211.4 68.9 212.7 68.6 213.9 68.3C215.2 68.0 216.5 67.6 217.8 67.2C219.1 66.8 220.3 66.5 221.6 66.1C222.9 65.7 224.2 65.3 225.4 65.0C226.7 64.6 228.0 64.3 229.3 64.0C230.6 63.7 231.9 63.5 233.2 63.2C234.5 63.0 235.8 62.7 237.1 62.5C238.4 62.3 239.7 62.1 241.0 61.9C242.3 61.8 243.6 61.6 245.0 61.5C246.3 61.3 247.6 61.2 248.9 61.1C250.2 60.9 251.6 60.8 252.9 60.7C254.2 60.6 255.6 60.5 256.9 60.4C258.2 60.3 259.5 60.2 260.9 60.2C262.2 60.1 263.5 60.0 264.9 59.9C266.2 59.8 267.5 59.8 268.9 59.7C270.2 59.6 271.5 59.5 272.9 59.5C274.2 59.4 275.5 59.3 276.8 59.2C278.2 59.2 279.5 59.1 280.8 59.0C282.2 59.0 283.5 58.9 284.8 58.8C286.1 58.7 287.5 58.7 288.8 58.6C290.1 58.5 291.5 58.5 292.8 58.4C294.1 58.3 295.4 58.3 296.8 58.2C298.1 58.1 299.4 58.1 300.7 58.0C302.1 58.0 303.4 57.9 304.7 57.8C306.1 57.8 307.4 57.7 308.7 57.7C310.0 57.6 311.4 57.6 312.7 57.5C314.0 57.4 315.3 57.4 316.7 57.3C318.0 57.3 319.3 57.2 320.6 57.2C322.0 57.2 323.3 57.1 324.6 57.1C326.0 57.0 327.3 57.0 328.6 56.9C329.9 56.9 331.3 56.9 332.6 56.8C333.9 56.8 335.2 56.8 336.6 56.7C337.9 56.7 339.2 56.7 340.6 56.7C341.9 56.6 343.2 56.6 344.5 56.6C345.9 56.6 347.2 56.6 348.5 56.5C349.9 56.5 351.2 56.5 352.5 56.5C353.9 56.5 355.2 56.5 356.5 56.5C357.8 56.5 359.2 56.5 360.5 56.5C361.8 56.5 363.2 56.5 364.5 56.5C365.8 56.5 367.2 56.5 368.5 56.5" stroke="#ff0000"/>
<path d="M46.6 420.0C47.8 419.9 49.1 419.8 50.4 419.8C51.8 419.7 53.1 419.7 54.4 419.6C55.8 419.5 57.2 419.4 58.5 419.3C59.9 419.1 61.2 419.0 62.5 418.7C63.9 418.5 65.2 418.2 66.5 417.8C67.8 417.5 69.0 417.0 70.2 416.5C71.4 415.9 72.5 415.3 73.6 414.6C74.8 413.9 75.8 413.1 76.8 412.3C77.9 411.5 78.9 410.6 79.8 409.6C80.8 408.7 81.7 407.7 82.5 406.7C83.4 405.7 84.2 404.7 85.0 403.6C85.8 402.5 86.6 401.5 87.3 400.4C88.0 399.3 88.7 398.1 89.4 397.0C90.1 395.9 90.7 394.7 91.3 393.5C91.9 392.4 92.5 391.2 93.0 390.0C93.6 388.8 94.1 387.6 94.6 386.3C95.2 385.1 95.7 383.9 96.1 382.6C96.6 381.4 97.1 380.1 97.5 378.9C97.9 377.6 98.4 376.4 98.8 375.1C99.2 373.8 99.6 372.5 100.0 371.3C100.4 370.0 100.8 368.7 101.2 367.4C101.5 366.2 101.9 364.9 102.3 363.6C102.6 362.3 103.0 361.0 103.3 359.7C103.7 358.5 104.0 357.2 104.3 355.9C104.7 354.6 105.0 353.3 105.3 352.0C105.6 350.7 105.9 349.4 106.2 348.1C106.5 346.8 106.8 345.6 107.1 344.3C107.4 343.0 107.7 341.7 107.9 340.4C108.2 339.1 108.5 337.8 108.8 336.5C109.0 335.2 109.3 333.9 109.5 332.6C109.8 331.2 110.0 329.9 110.3 328.6C110.5 327.3 110.8 326.0 111.0 324.7C111.2 323.4 111.5 322.1 111.7 320.8C111.9 319.5 112.1 318.2 112.4 316.9C112.6 315.6 112.8 314.3 113.0 312.9C113.2 311.6 113.4 310.3 113.6 309.0C113.8 307.7 114.0 306.4 114.2 305.1C114.4 303.8 114.6 302.5 114.8 301.1C115.0 299.8 115.2 298.5 115.4 297.2C115.6 295.9 115.8 294.6 116.0 293.3C116.2 292.0 116.4 290.7 116.6 289.3C116.7 288.0 116.9 286.7 117.1 285.4C117.3 284.1 117.5 282.8 117.6 281.5C117.8 280.1 118.0 278.8 118.2 277.5C118.3 276.2 118.5 274.9 118.7 273.6C118.9 272.3 119.0 271.0 119.2 269.6C119.4 268.3 119.5 267.0 119.7 265.7C119.9 264.4 120.0 263.1 120.2 261.8C120.3 260.4 120.5 259.1 120.7 257.8C120.8 256.5 121.0 255.2 121.1 253.9C121.3 252.5 121.4 251.2 121.6 249.9C121.7 248.6 121.9 247.3 122.0 246.0C122.2 244.6 122.3 243.3 122.5 242.0C122.6 240.7 122.8 239.4 122.9 238.1C123.1 236.7 123.2 235.4 123.3 234.1C123.5 232.8 123.6 231.5 123.8 230.2C123.9 228.8 124.1 227.5 124.2 226.2C124.3 224.9 124.5 223.6 124.6 222.2C124.7 220.9 124.9 219.6 125.0 218.3C125.1 217.0 125.3 215.6 125.4 214.3C125.5 213.0 125.7 211.7 125.8 210.3C125.9 209.0 126.1 207.7 126.2 206.4C126.3 205.1 126.4 203.7 126.6 202.4C126.7 201.1 126.8 199.8 126.9 198.4C127.1 197.1 127.2 195.8 127.3 194.5C127.4 193.1 127.6 191.8 127.7 190.5C127.8 189.2 127.9 187.8 128.1 186.5C128.2 185.2 128.3 183.9 128.4 182.5C128.5 181.2 128.7 179.9 128.8 178.6C128.9 177.2 129.0 175.9 129.1 174.6C129.3 173.2 129.4 171.9 129.5 170.6C129.6 169.3 129.7 167.9 129.8 166.6C130.0 165.3 130.1 163.9 130.2 162.6C130.3 161.3 130.4 160.0 130.6 158.6C130.7 157.3 130.8 156.0 130.9 154.6C131.0 153.3 131.2 152.0 131.3 150.7C131.4 149.3 131.5 148.0 131.6 146.7C131.8 145.4 131.9 144.0 132.0 142.7C132.1 141.4 132.2 140.0 132.4 138.7C132.5 137.4 132.6 136.1 132.7 134.7C132.9 133.4 133.0 132.1 133.1 130.8C133.3 129.4 133.4 128.1 133.5 126.8C133.6 125.5 133.8 124.2 133.9 122.8C134.0 121.5 134.2 120.2 134.3 118.9C134.5 117.5 134.6 116.2 134.7 114.9C134.9 113.6 135.0 112.3 135.2 111.0C135.3 109.6 135.4 108.3 135.6 107.0C135.7 105.7 135.9 104.4 136.0 103.1C136.2 101.8 136.3 100.5 136.5 99.1C136.6 97.8 136.8 96.5 136.9 95.2C137.1 93.9 137.3 92.6 137.4 91.3C137.6 90.0 137.8 88.7 137.9 87.4C138.1 86.1 138.3 84.8 138.5 83.5C138.6 82.2 138.8 80.9 139.0 79.6C139.2 78.3 139.4 77.0 139.7 75.7C139.9 74.4 140.1 73.0 140.3 71.7C140.6 70.4 140.8 69.1 141.1 67.8C141.3 66.5 141.6 65.2 141.9 63.8C142.2 62.5 142.5 61.2 142.8 59.9C143.2 58.6 143.6 57.3 144.1 56.0C144.6 54.8 145.2 53.6 145.9 52.6C146.7 51.5 147.6 50.4 148.6 50.2C149.7 49.9 150.8 50.6 151.9 51.5C152.9 52.5 154.0 53.8 155.2 54.6C156.3 55.5 157.6 55.9 158.8 55.7C160.0 55.4 161.2 54.6 162.2 53.7C163.3 52.8 164.2 51.9 165.1 50.9C166.0 50.0 166.8 48.9 167.5 47.9C168.3 46.9 169.1 45.8 169.8 44.7C170.6 43.6 171.4 42.6 172.2 41.5C173.0 40.4 173.9 39.4 174.9 38.4C175.9 37.4 177.0 36.4 178.1 35.8C179.3 35.1 180.5 34.7 181.8 34.6C183.0 34.5 184.3 34.6 185.7 34.8C187.0 34.9 188.3 35.1 189.7 35.2C191.0 35.3 192.3 35.3 193.6 35.3C195.0 35.2 196.3 35.2 197.6 35.0C198.9 34.9 200.2 34.7 201.5 34.6C202.8 34.4 204.1 34.2 205.4 33.9C206.7 33.7 208.1 33.5 209.4 33.3C210.7 33.0 212.0 32.9 213.3 32.7C214.6 32.6 216.0 32.6 217.3 32.6C218.6 32.6 220.0 32.7 221.3 32.7C222.6 32.7 224.0 32.8 225.3 32.7C226.6 32.7 227.9 32.6 229.2 32.5C230.6 32.3 231.9 32.2 233.2 32.0C234.5 31.8 235.8 31.6 237.1 31.4C238.5 31.2 239.8 31.0 241.1 30.9C242.4 30.8 243.7 30.6 245.1 30.6C246.4 30.5 247.7 30.4 249.0 30.3C250.4 30.3 251.7 30.2 253.0 30.2C254.4 30.1 255.7 30.0 257.0 30.0C258.3 29.9 259.7 29.9 261.0 29.8C262.3 29.8 263.6 29.7 265.0 29.7C266.3 29.6 267.6 29.6 268.9 29.6C270.3 29.5 271.6 29.5 272.9 29.4C274.3 29.4 275.6 29.4 276.9 29.3C278.2 29.3 279.6 29.3 280.9 29.2C282.2 29.2 283.5 29.2 284.9 29.2C286.2 29.1 287.5 29.1 288.9 29.1C290.2 29.0 291.5 29.0 292.8 29.0C294.2 29.0 295.5 29.0 296.8 28.9C298.1 28.9 299.5 28.9 300.8 28.9C302.1 28.9 303.5 28.8 304.8 28.8C306.1 28.8 307.4 28.8 308.8 28.8C310.1 28.8 311.4 28.7 312.7 28.7C314.1 28.7 315.4 28.7 316.7 28.7C318.1 28.7 319.4 28.7 320.7 28.7C322.0 28.6 323.4 28.6 324.7 28.6C326.0 28.6 327.3 28.6 328.7 28.6C330.0 28.6 331.3 28.6 332.7 28.6C334.0 28.6 335.3 28.6 336.6 28.5C338.0 28.5 339.3 28.5 340.6 28.5C341.9 28.5 343.3 28.5 344.6 28.5C345.9 28.5 347.3 28.5 348.6 28.5C349.9 28.5 351.2 28.5 352.6 28.5C353.9 28.5 355.2 28.5 356.6 28.5C357.9 28.5 359.2 28.5 360.5 28.5C361.9 28.5 363.2 28.5 364.5 28.5C365.8 28.5 367.2 28.5 368.5 28.4" stroke="#00ff00"/>
</g>
<g clip-path="url(#c)">
<path d="M336.1 28.50 H357.10" stroke="#00ff00" stroke-width="2.5" fill="none"/>
<path d="M368.80 28.50 L355.30 24.90 L356.60 28.50 L355.30 32.10 Z" fill="#00ff00"/>
<path d="M336.1 56.25 H357.10" stroke="#ff0000" stroke-width="2.5" fill="none"/>
<path d="M368.80 56.25 L355.30 52.65 L356.60 56.25 L355.30 59.85 Z" fill="#ff0000"/>
<path d="M336.1 88.10 H357.10" stroke="#0000ff" stroke-width="2.5" fill="none"/>
<path d="M368.80 88.10 L355.30 84.50 L356.60 88.10 L355.30 91.70 Z" fill="#0000ff"/>
<path d="M336.1 123.70 H357.10" stroke="#800080" stroke-width="2.5" fill="none"/>
<path d="M368.80 123.70 L355.30 120.10 L356.60 123.70 L355.30 127.30 Z" fill="#800080"/>
<path d="M336.1 163.50 H357.10" stroke="#ff8000" stroke-width="2.5" fill="none"/>
<path d="M368.80 163.50 L355.30 159.90 L356.60 163.50 L355.30 167.10 Z" fill="#ff8000"/>
<path d="M336.1 206.90 H357.10" stroke="#ff00ff" stroke-width="2.5" fill="none"/>
<path d="M368.80 206.90 L355.30 203.30 L356.60 206.90 L355.30 210.50 Z" fill="#ff00ff"/>
<path d="M336.1 257.00 H357.10" stroke="#00ff00" stroke-width="2.5" fill="none"/>
<path d="M368.80 257.00 L355.30 253.40 L356.60 257.00 L355.30 260.60 Z" fill="#00ff00"/>
<path d="M336.1 318.40 H357.10" stroke="#ff0000" stroke-width="2.5" fill="none"/>
<path d="M368.80 318.40 L355.30 314.80 L356.60 318.40 L355.30 322.00 Z" fill="#ff0000"/>
<path d="M336.1 426.20 H357.10" stroke="#0000ff" stroke-width="2.5" fill="none"/>
<path d="M368.80 426.20 L355.30 422.60 L356.60 426.20 L355.30 429.80 Z" fill="#0000ff"/>
</g>
<g opacity="0.999">
<text x="43.7" y="429.65" text-anchor="end">0.0</text>
<text x="43.7" y="346.10" text-anchor="end">0.1</text>
<text x="43.7" y="262.55" text-anchor="end">0.2</text>
<text x="43.7" y="179.00" text-anchor="end">0.3</text>
<text x="43.7" y="95.45" text-anchor="end">0.4</text>
<text x="43.7" y="11.90" text-anchor="end">0.5</text>
<text x="46.75" y="441.15" text-anchor="middle">0</text>
<text x="111.10" y="441.15" text-anchor="middle">20</text>
<text x="175.45" y="441.15" text-anchor="middle">40</text>
<text x="239.80" y="441.15" text-anchor="middle">60</text>
<text x="304.15" y="441.15" text-anchor="middle">80</text>
<text x="368.50" y="441.15" text-anchor="middle">100</text>
<text x="206.9" y="465" text-anchor="middle" font-style="italic">t</text>
<text transform="translate(12.2 217.4) rotate(-90)" text-anchor="middle" font-style="italic">m</text>
</g>
</svg></body></html>
